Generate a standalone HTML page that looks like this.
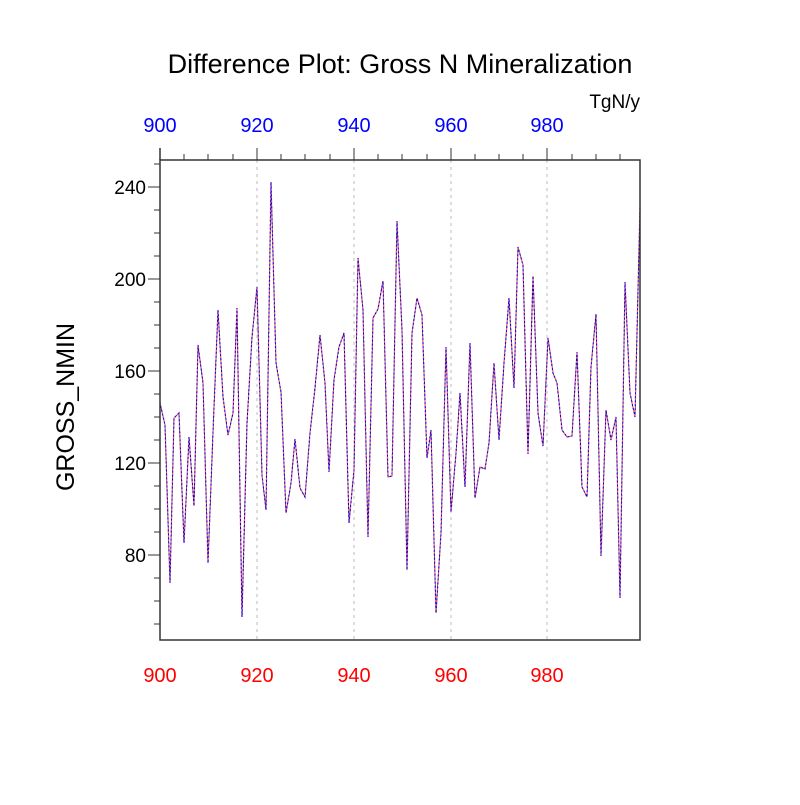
<!DOCTYPE html>
<html><head><meta charset="utf-8"><style>body{margin:0;background:#fff}</style></head><body>
<svg width="800" height="800" xmlns="http://www.w3.org/2000/svg" font-family="Liberation Sans, sans-serif">
<rect width="800" height="800" fill="#fff"/>
<text x="400" y="73" font-size="27" text-anchor="middle">Difference Plot: Gross N Mineralization</text>
<text x="640" y="108" font-size="19" text-anchor="end">TgN/y</text>
<g stroke="#bbb" stroke-width="1" stroke-dasharray="3,4">
<line x1="257" y1="160" x2="257" y2="640"/><line x1="354" y1="160" x2="354" y2="640"/><line x1="451" y1="160" x2="451" y2="640"/><line x1="547" y1="160" x2="547" y2="640"/>
</g>
<polyline fill="none" stroke="#000" stroke-width="0.6" points="160,403 165,425 170,583 174,418 179,413 184,543 189,437 194,506 198,345 203,383 208,563 213,432 218,310 223,397 228,435 233,413 237,308 242,617 247,423 252,337 257,287 262,475 266,510 271,182 276,363 281,392 286,513 291,483 295,439 300,488 305,497 310,433 315,388 320,335 325,383 329,472 334,380 339,347 344,333 349,523 354,470 358,258 363,310 368,537 373,318 378,309 383,281 388,477 392,476 397,221 402,330 407,570 412,333 417,298 422,315 427,458 431,430 436,613 441,533 446,347 451,512 456,453 460,393 465,487 470,343 475,498 480,467 485,469 489,443 494,363 499,440 504,363 509,298 514,388 518,247 523,265 528,454 533,276 538,413 543,446 548,338 553,373 557,383 562,430 567,437 572,436 577,352 582,487 587,497 591,367 596,314 601,556 606,410 611,440 616,417 620,598 625,282 630,393 635,417 640,207"/>
<polyline fill="none" stroke="#f66" stroke-width="1.3" stroke-dasharray="5,2" points="160,403 165,425 170,583 174,418 179,413 184,543 189,437 194,506 198,345 203,383 208,563 213,432 218,310 223,397 228,435 233,413 237,308 242,617 247,423 252,337 257,287 262,475 266,510 271,182 276,363 281,392 286,513 291,483 295,439 300,488 305,497 310,433 315,388 320,335 325,383 329,472 334,380 339,347 344,333 349,523 354,470 358,258 363,310 368,537 373,318 378,309 383,281 388,477 392,476 397,221 402,330 407,570 412,333 417,298 422,315 427,458 431,430 436,613 441,533 446,347 451,512 456,453 460,393 465,487 470,343 475,498 480,467 485,469 489,443 494,363 499,440 504,363 509,298 514,388 518,247 523,265 528,454 533,276 538,413 543,446 548,338 553,373 557,383 562,430 567,437 572,436 577,352 582,487 587,497 591,367 596,314 601,556 606,410 611,440 616,417 620,598 625,282 630,393 635,417 640,207"/>
<polyline fill="none" stroke="#00f" stroke-width="1" stroke-dasharray="2,2" stroke-dashoffset="1" points="160,403 165,425 170,583 174,418 179,413 184,543 189,437 194,506 198,345 203,383 208,563 213,432 218,310 223,397 228,435 233,413 237,308 242,617 247,423 252,337 257,287 262,475 266,510 271,182 276,363 281,392 286,513 291,483 295,439 300,488 305,497 310,433 315,388 320,335 325,383 329,472 334,380 339,347 344,333 349,523 354,470 358,258 363,310 368,537 373,318 378,309 383,281 388,477 392,476 397,221 402,330 407,570 412,333 417,298 422,315 427,458 431,430 436,613 441,533 446,347 451,512 456,453 460,393 465,487 470,343 475,498 480,467 485,469 489,443 494,363 499,440 504,363 509,298 514,388 518,247 523,265 528,454 533,276 538,413 543,446 548,338 553,373 557,383 562,430 567,437 572,436 577,352 582,487 587,497 591,367 596,314 601,556 606,410 611,440 616,417 620,598 625,282 630,393 635,417 640,207"/>
<g stroke="#333" stroke-width="1.5" fill="none">
<rect x="160" y="160" width="480" height="480"/>
<line x1="160" y1="148" x2="160" y2="160"/>
</g>
<g stroke="#333" stroke-width="1">
<path d="M257 148V160M354 148V160M451 148V160M547 148V160M184 154V160M208 154V160M233 154V160M281 154V160M305 154V160M330 154V160M378 154V160M402 154V160M427 154V160M475 154V160M499 154V160M523 154V160M572 154V160M596 154V160M620 154V160"/>
<path d="M148 187H160M148 279H160M148 371H160M148 463H160M148 555H160M154 164H160M154 210H160M154 233H160M154 256H160M154 302H160M154 325H160M154 348H160M154 394H160M154 417H160M154 440H160M154 486H160M154 509H160M154 532H160M154 578H160M154 601H160M154 624H160"/>
</g>
<g font-size="20" fill="#00f" text-anchor="middle">
<text x="160" y="132">900</text><text x="257" y="132">920</text><text x="354" y="132">940</text><text x="451" y="132">960</text><text x="547" y="132">980</text>
</g>
<g font-size="20" fill="#f00" text-anchor="middle">
<text x="160" y="682">900</text><text x="257" y="682">920</text><text x="354" y="682">940</text><text x="451" y="682">960</text><text x="547" y="682">980</text>
</g>
<g font-size="19" text-anchor="end">
<text x="146" y="194">240</text><text x="146" y="286">200</text><text x="146" y="378">160</text><text x="146" y="470">120</text><text x="146" y="562">80</text>
</g>
<text transform="translate(74,407) rotate(-90)" font-size="25" text-anchor="middle">GROSS_NMIN</text>
</svg>
</body></html>
